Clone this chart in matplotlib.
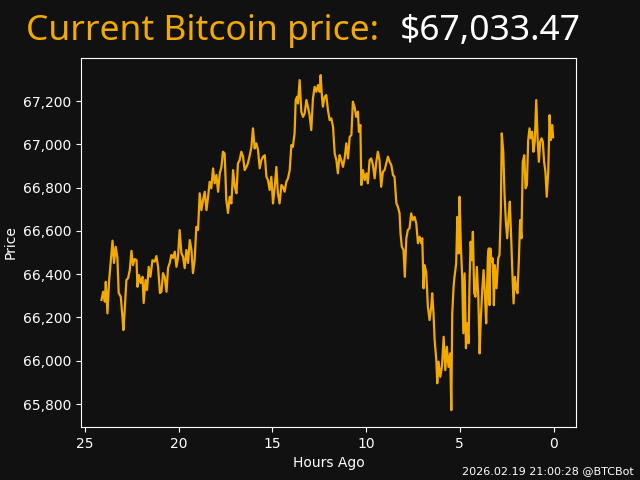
import matplotlib
matplotlib.use('Agg')
import matplotlib.pyplot as plt
from matplotlib.ticker import FuncFormatter

# prices, hours ago -> price in USD
hours_ago = [24.11, 24.02, 23.93, 23.88, 23.79, 23.70, 23.61, 23.52, 23.44, 23.35,
             23.26, 23.19, 23.08, 22.99, 22.94, 22.87, 22.78, 22.69, 22.60, 22.51,
             22.43, 22.34, 22.24, 22.19, 22.11, 22.02, 21.92, 21.86, 21.76, 21.68,
             21.59, 21.50, 21.39, 21.27, 21.18, 21.09, 20.99, 20.91, 20.83, 20.74,
             20.64, 20.56, 20.47, 20.38, 20.29, 20.20, 20.11, 20.03, 19.94, 19.85,
             19.76, 19.67, 19.58, 19.49, 19.40, 19.31, 19.23, 19.14, 19.05, 18.96,
             18.87, 18.78, 18.69, 18.60, 18.51, 18.43, 18.34, 18.25, 18.16, 18.07,
             17.98, 17.89, 17.80, 17.71, 17.63, 17.54, 17.45, 17.36, 17.27, 17.18,
             17.09, 17.00, 16.91, 16.83, 16.74, 16.65, 16.56, 16.47, 16.38, 16.30,
             16.20, 16.11, 16.03, 15.94, 15.85, 15.76, 15.67, 15.58, 15.49, 15.40,
             15.31, 15.23, 15.14, 15.05, 14.96, 14.87, 14.78, 14.70, 14.61, 14.51,
             14.43, 14.34, 14.25, 14.16, 14.07, 13.98, 13.90, 13.81, 13.75, 13.68,
             13.63, 13.54, 13.45, 13.36, 13.27, 13.18, 13.10, 13.01, 12.92, 12.83,
             12.74, 12.65, 12.56, 12.47, 12.42, 12.35, 12.30, 12.21, 12.12, 12.03,
             11.94, 11.85, 11.76, 11.67, 11.58, 11.50, 11.41, 11.32, 11.23, 11.14,
             11.05, 10.96, 10.87, 10.78, 10.70, 10.61, 10.52, 10.43, 10.38, 10.30,
             10.25, 10.16, 10.07, 9.98, 9.90, 9.81, 9.72, 9.63, 9.54, 9.45,
             9.37, 9.28, 9.19, 9.10, 9.01, 8.92, 8.83, 8.74, 8.65, 8.56,
             8.48, 8.38, 8.30, 8.21, 8.16, 8.09, 8.00, 7.93, 7.85, 7.77,
             7.68, 7.59, 7.50, 7.41, 7.32, 7.23, 7.14, 7.05, 7.00, 6.93,
             6.88, 6.79, 6.70, 6.61, 6.52, 6.47, 6.40, 6.34, 6.25, 6.20,
             6.13, 6.04, 5.95, 5.86, 5.77, 5.69, 5.60, 5.51, 5.45, 5.40,
             5.33, 5.28, 5.19, 5.13, 5.06, 5.01, 4.94, 4.87, 4.81, 4.74,
             4.67, 4.60, 4.53, 4.48, 4.42, 4.36, 4.30, 4.23, 4.16, 4.09,
             4.01, 3.94, 3.88, 3.80, 3.73, 3.66, 3.59, 3.50, 3.45, 3.41,
             3.37, 3.30, 3.24, 3.18, 3.13, 3.04, 2.95, 2.88, 2.84, 2.81,
             2.76, 2.68, 2.61, 2.54, 2.47, 2.40, 2.33, 2.25, 2.19, 2.13,
             2.06, 1.99, 1.92, 1.85, 1.78, 1.71, 1.64, 1.56, 1.49, 1.42,
             1.35, 1.28, 1.21, 1.14, 1.07, 1.00, 0.92, 0.85, 0.78, 0.71,
             0.64, 0.57, 0.50, 0.43, 0.36, 0.28, 0.21, 0.14, 0.07, 0.02]
prices = [66281, 66319, 66273, 66365, 66219, 66373, 66465, 66555, 66452, 66527,
          66475, 66313, 66296, 66203, 66142, 66234, 66373, 66382, 66419, 66508,
          66442, 66470, 66465, 66342, 66396, 66359, 66388, 66267, 66373, 66327,
          66434, 66388, 66465, 66458, 66484, 66434, 66313, 66319, 66405, 66388,
          66319, 66428, 66452, 66489, 66475, 66504, 66434, 66475, 66604, 66498,
          66481, 66428, 66512, 66452, 66558, 66512, 66405, 66465, 66619, 66604,
          66774, 66696, 66743, 66781, 66696, 66752, 66827, 66797, 66889, 66820,
          66858, 66781, 66866, 66896, 66966, 66958, 66743, 66683, 66758, 66727,
          66881, 66804, 66774, 66912, 66927, 66966, 66943, 66881, 66896, 66912,
          66950, 66989, 67074, 66981, 67005, 66974, 66889, 66927, 66943, 66950,
          66850, 66835, 66789, 66850, 66727, 66804, 66896, 66774, 66727, 66812,
          66804, 66781, 66827, 66843, 66881, 66997, 66989, 67051, 67205, 67220,
          67189, 67297, 67151, 67127, 67143, 67205, 67174, 67135, 67066, 67212,
          67266, 67243, 67274, 67243, 67320, 67220, 67174, 67220, 67228, 67158,
          67112, 67120, 67081, 66958, 66927, 66866, 66950, 66927, 66896, 66935,
          67005, 66935, 67035, 67043, 67197, 67172, 67127, 67151, 67058, 67089,
          66812, 66881, 66835, 66866, 66820, 66927, 66935, 66904, 66843, 66919,
          66966, 66927, 66804, 66873, 66881, 66912, 66943, 66919, 66904, 66858,
          66850, 66727, 66712, 66681, 66589, 66527, 66512, 66388, 66566, 66604,
          66612, 66681, 66650, 66665, 66635, 66543, 66573, 66543, 66566, 66335,
          66442, 66411, 66250, 66188, 66250, 66312, 66219, 66096, 66003, 65896,
          65996, 65926, 65972, 66111, 65957, 66065, 65972, 66034, 65772, 66219,
          66342, 66388, 66450, 66665, 66496, 66758, 66527, 66388, 66127, 66404,
          66058, 66173, 66081, 66358, 66550, 66465, 66596, 66312, 66296, 66434,
          66296, 66034, 66188, 66327, 66419, 66312, 66173, 66481, 66519, 66257,
          66519, 66458, 66473, 66257, 66442, 66335, 66473, 66489, 66612, 66689,
          67051, 66966, 66766, 66642, 66566, 66658, 66735, 66550, 66396, 66265,
          66388, 66335, 66312, 66458, 66650, 66566, 66919, 66950, 66797, 66812,
          67020, 67074, 67028, 67058, 66966, 67012, 67205, 67028, 66919, 67012,
          67028, 67012, 66919, 66873, 66758, 66873, 67135, 67020, 67089, 67033]

current_price = "$67,033.47"
stamp = "2026.02.19 21:00:28 @BTCBot"

bg = '#111111'
btc_orange = '#f2a900'

fig = plt.figure(figsize=(6.4, 4.8), dpi=100, facecolor=bg)
ax = fig.add_axes([0.1266, 0.1104, 0.7734, 0.76875], facecolor=bg)

ax.plot(hours_ago, prices, color=btc_orange, linewidth=1.6)
ax.set_xlim(25.2, -1.2)
ax.set_ylim(65694, 67399)
ax.set_xticks([25, 20, 15, 10, 5, 0])
ax.set_yticks([65800, 66000, 66200, 66400, 66600, 66800, 67000, 67200])
ax.yaxis.set_major_formatter(FuncFormatter(lambda v, p: '{:,.0f}'.format(v)))

for s in ax.spines.values():
    s.set_color('white')
ax.tick_params(colors='white', labelsize=10)
ax.set_xlabel('Hours Ago', color='white', fontsize=10)
ax.set_ylabel('Price', color='white', fontsize=10)

# title in two colours
fig.text(26 / 640, 1 - 40 / 480, 'Current Bitcoin price:', color=btc_orange,
         fontsize=25.5, family='Noto Sans', ha='left', va='baseline')
fig.text(581 / 640, 1 - 40 / 480, current_price, color='white',
         fontsize=25.5, family='Noto Sans', ha='right', va='baseline')

fig.text(634 / 640, 1 - 474 / 480, stamp, color='white', fontsize=8,
         ha='right', va='baseline')

fig.savefig('out.png', dpi=100, facecolor=bg)
